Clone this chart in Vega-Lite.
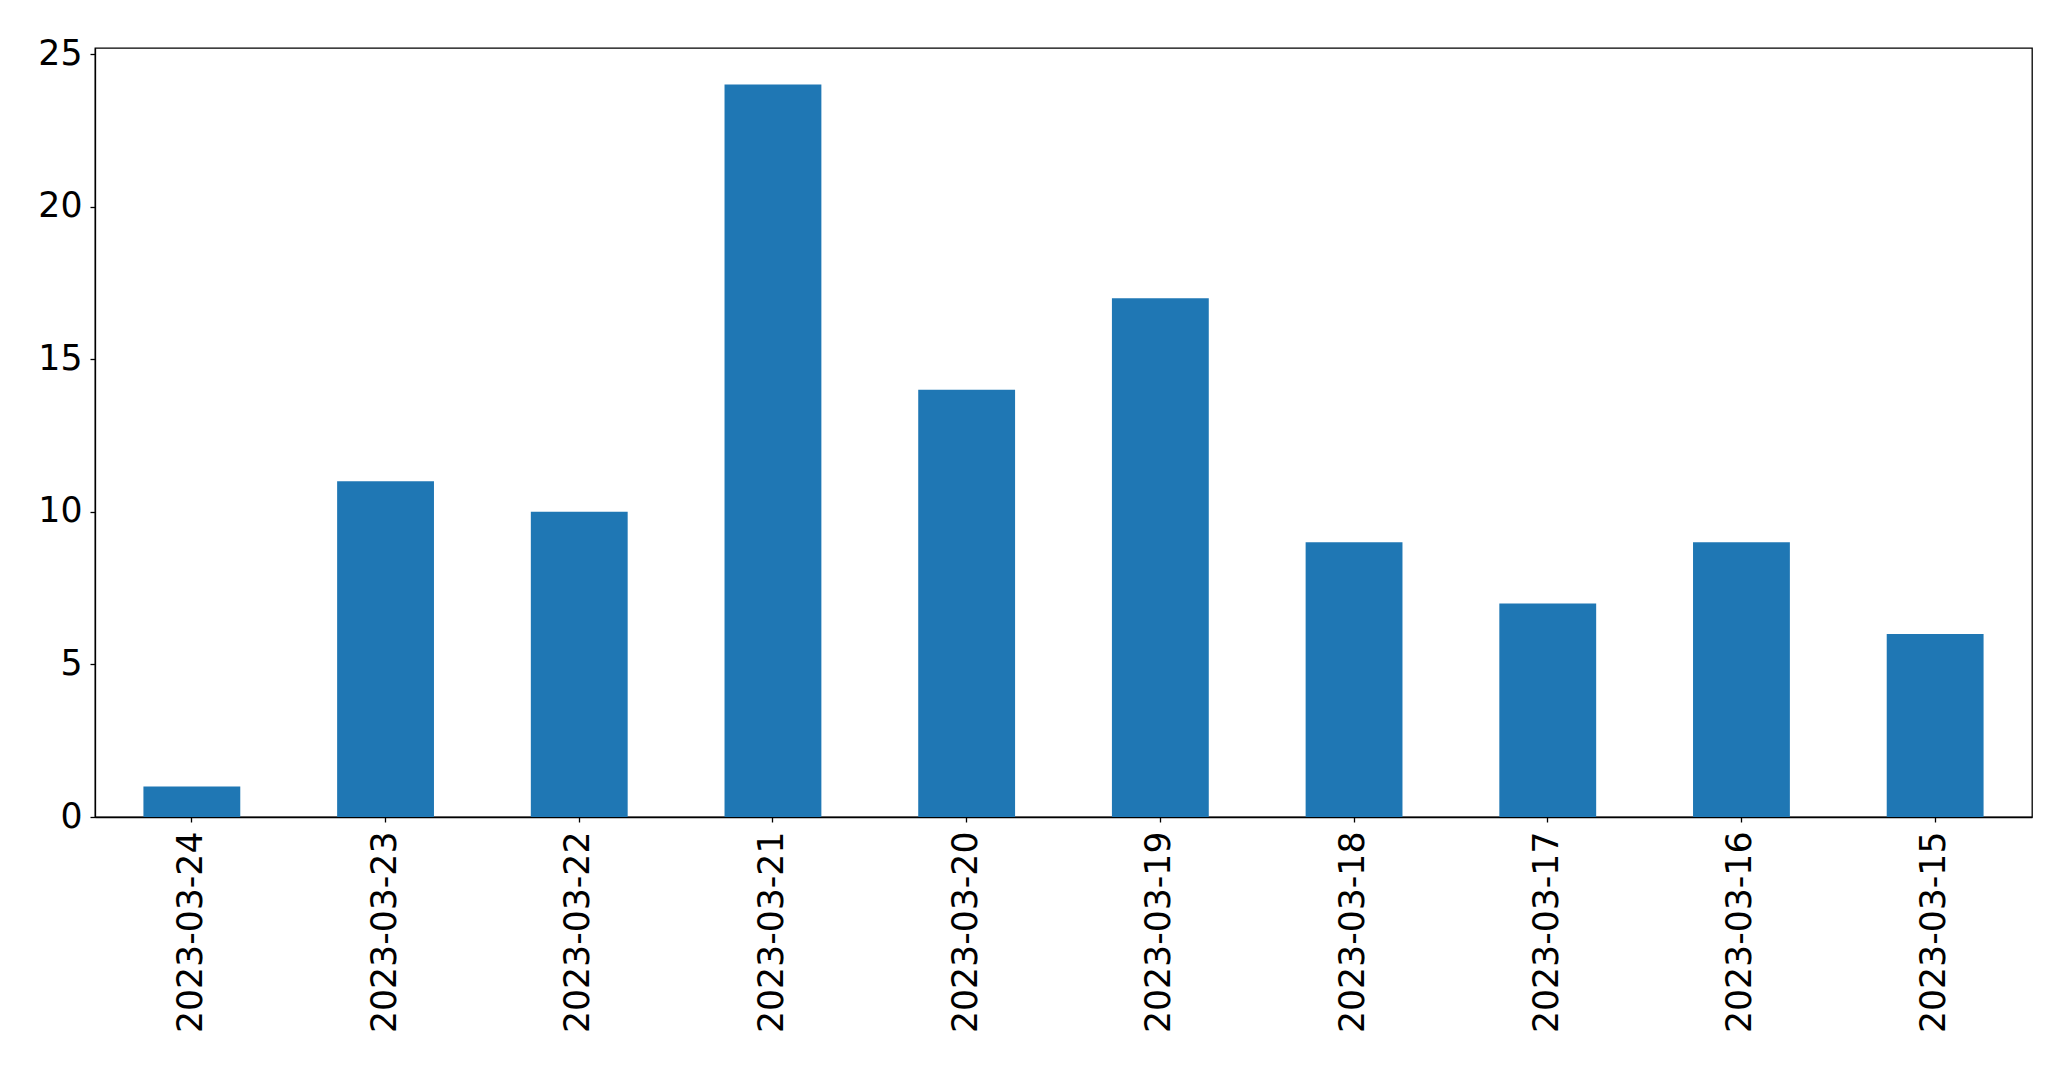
{
  "$schema": "https://vega.github.io/schema/vega-lite/v6.json",
  "autosize": {"type": "none"},
  "padding": {"left": 95, "top": 48, "right": 39, "bottom": 252},
  "width": 1937,
  "height": 769,
  "background": "white",
  "data": {"values": [
    {"date": "2023-03-24", "count": 1},
    {"date": "2023-03-23", "count": 11},
    {"date": "2023-03-22", "count": 10},
    {"date": "2023-03-21", "count": 24},
    {"date": "2023-03-20", "count": 14},
    {"date": "2023-03-19", "count": 17},
    {"date": "2023-03-18", "count": 9},
    {"date": "2023-03-17", "count": 7},
    {"date": "2023-03-16", "count": 9},
    {"date": "2023-03-15", "count": 6}
  ]},
  "mark": {"type": "bar", "color": "#1f77b4"},
  "encoding": {
    "x": {
      "field": "date", "type": "nominal", "sort": null,
      "scale": {"paddingInner": 0.5, "paddingOuter": 0.25},
      "axis": {"title": null, "labelAngle": -90, "labelFontSize": 34.7, "labelFont": "DejaVu Sans", "labelColor": "black",
               "labelLimit": 0, "labelOverlap": false,
               "tickSize": 5, "tickColor": "black", "tickWidth": 1.3, "domainColor": "black", "domainWidth": 1.3,
               "labelPadding": 9, "grid": false}
    },
    "y": {
      "field": "count", "type": "quantitative",
      "scale": {"domain": [0, 25.2], "nice": false},
      "axis": {"title": null, "values": [0, 5, 10, 15, 20, 25], "labelFontSize": 34.7, "labelFont": "DejaVu Sans", "labelColor": "black",
               "labelLimit": 0, "labelOverlap": false,
               "tickSize": 5, "tickColor": "black", "tickWidth": 1.3, "domainColor": "black", "domainWidth": 1.3,
               "labelPadding": 8, "grid": false}
    }
  },
  "config": {
    "view": {"stroke": "black", "strokeWidth": 1.3}
  }
}
